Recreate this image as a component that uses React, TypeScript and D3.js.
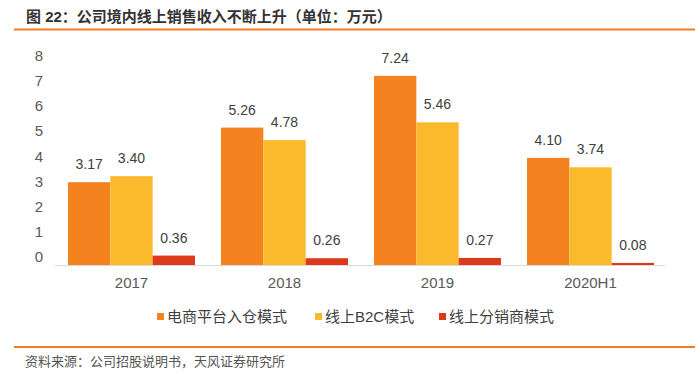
import React from 'react'
import * as d3 from 'd3'

const categories = ['2017', '2018', '2019', '2020H1']
const seriesNames = ['电商平台入仓模式', '线上B2C模式', '线上分销商模式']
const warehouse = [3.17, 5.26, 7.24, 4.10]
const b2c = [3.40, 4.78, 5.46, 3.74]
const distributor = [0.36, 0.26, 0.27, 0.08]
const yTicks = [0, 1, 2, 3, 4, 5, 6, 7, 8]

const colors = ['#F4821F', '#FBBA2C', '#DC3A1B']
const W = 700
const H = 374
const font = '"Liberation Sans", "Noto Sans CJK SC", Arial, sans-serif'

const App = () => {
    const series = [warehouse, b2c, distributor]

    // x: category bands, then series inside each band
    const x0 = d3.scaleBand()
        .domain(categories)
        .range([55, 667])
        .paddingInner(0.17)
        .paddingOuter(0.085)
    const x1 = d3.scaleBand()
        .domain(seriesNames)
        .range([0, x0.bandwidth()])

    const y = d3.scaleLinear().domain([0, 8]).range([265, 56])
    // tick labels in the source sit slightly compressed
    const yLabel = d3.scaleLinear().domain([0, 8]).range([257, 55.5])

    const legendX = [157, 315, 439]

    return (
        <svg width={W} height={H} style={{ position: 'absolute', left: 0, top: 0 }} fontFamily={font}>
            <rect width={W} height={H} fill="#fff" />
            {/* 标题 */}
            <text x={26} y={22} fontSize={15} fontWeight="bold" fill="#333">
                图 22：公司境内线上销售收入不断上升（单位：万元）
            </text>
            <line x1={14} x2={695} y1={29.5} y2={29.5} stroke="#F47B20" strokeWidth={2} />

            {/* y轴标签 */}
            {yTicks.map(t => (
                <text key={t} x={43} y={yLabel(t)} dy="0.35em" fontSize={15} textAnchor="end" fill="#595959">
                    {t}
                </text>
            ))}

            {/* 柱子 */}
            {categories.map((c, ci) => (
                <g key={c} transform={`translate(${x0(c)},0)`}>
                    {series.map((vals, si) => {
                        const bx = x1(seriesNames[si])
                        const by = y(vals[ci])
                        return (
                            <g key={si}>
                                <rect x={bx} y={by} width={x1.bandwidth()} height={y(0) - by} fill={colors[si]} />
                                <text x={bx + x1.bandwidth() / 2} y={by - 13} fontSize={14} textAnchor="middle" fill="#404040">
                                    {vals[ci].toFixed(2)}
                                </text>
                            </g>
                        )
                    })}
                </g>
            ))}

            {/* x轴 */}
            <line x1={55} x2={665} y1={265.5} y2={265.5} stroke="#D9D9D9" />
            {categories.map(c => (
                <text key={c} x={x0(c) + x0.bandwidth() / 2} y={288} fontSize={15} textAnchor="middle" fill="#595959">
                    {c}
                </text>
            ))}

            {/* 图例 */}
            {seriesNames.map((s, i) => (
                <g key={s} transform={`translate(${legendX[i]},0)`}>
                    <rect x={0} y={313} width={7} height={7} fill={colors[i]} />
                    <text x={10} y={322} fontSize={15} fill="#404040">{s}</text>
                </g>
            ))}

            {/* 来源 */}
            <line x1={14} x2={695} y1={347} y2={347} stroke="#F47B20" strokeWidth={2} />
            <text x={25} y={366} fontSize={13} fill="#555">
                资料来源：公司招股说明书，天风证券研究所
            </text>
        </svg>
    )
}

export default App
